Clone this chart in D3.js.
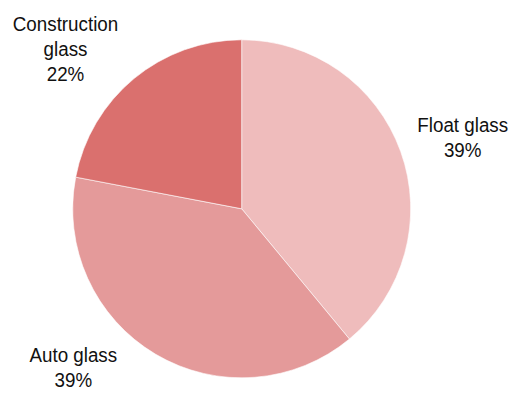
<!DOCTYPE html>
<html>
<head>
<meta charset="utf-8">
<script src="https://cdn.jsdelivr.net/npm/d3@7"></script>
<style>
  html, body { margin: 0; padding: 0; background: #fff; }
  svg { display: block; }
  text { font-family: "Liberation Sans", Arial, sans-serif; fill: #111; }
</style>
</head>
<body>
<svg id="chart" width="517" height="394"></svg>
<script>
// Glass market split by segment (%)
const categories = ["Float glass", "Auto glass", "Construction glass"];
const shares = [39, 39, 22];
const labelLines = [["Float glass", "39%"], ["Auto glass", "39%"], ["Construction", "glass", "22%"]];
const colors = ["#EFBCBC", "#E49A9A", "#DA706E"];

const svg = d3.select("#chart");
const cx = 241.7, cy = 208.8, radius = 169;

const pie = d3.pie().sort(null).value(d => d.value);
const arcs = pie(categories.map((c, i) => ({ name: c, value: shares[i], color: colors[i], lines: labelLines[i] })));
const arc = d3.arc().innerRadius(0).outerRadius(radius);

const g = svg.append("g").attr("transform", `translate(${cx},${cy})`);
g.selectAll("path")
  .data(arcs)
  .join("path")
  .attr("d", arc)
  .attr("fill", d => d.data.color)
  .attr("stroke", "#fff")
  .attr("stroke-width", 0.6);

// Label blocks: centre x and first baseline, in page pixels
const labelPos = [
  { x: 462.7, y: 131.5 },
  { x: 73.3, y: 361.5 },
  { x: 65.5, y: 30.5 }
];
const lineH = 25.5;
const fontSize = 21;

arcs.forEach((d, k) => {
  const p = labelPos[k];
  const t = svg.append("text")
    .attr("text-anchor", "middle")
    .attr("font-size", fontSize)
    .attr("transform", `translate(${p.x},${p.y}) scale(0.895,1)`);
  d.data.lines.forEach((line, i) => {
    t.append("tspan")
      .attr("x", 0)
      .attr("y", i * lineH)
      .text(line);
  });
});
</script>
</body>
</html>
